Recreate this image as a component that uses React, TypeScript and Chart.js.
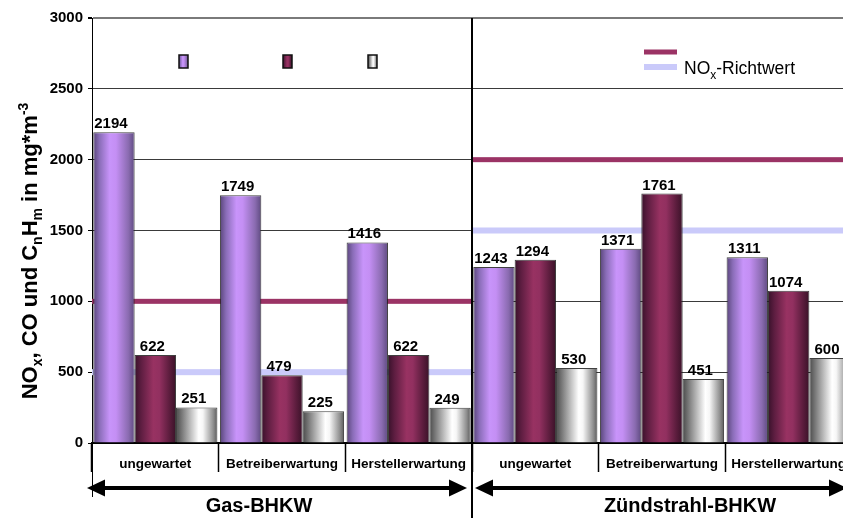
import React, { useEffect, useRef } from "react";
import { Chart, registerables } from "chart.js";

Chart.register(...registerables);

const FONT = "'Liberation Sans', Arial, Helvetica, sans-serif";
Chart.defaults.font.family = FONT;

// ---- data ----
const categories = [
  "ungewartet",
  "Betreiberwartung",
  "Herstellerwartung",
  "ungewartet",
  "Betreiberwartung",
  "Herstellerwartung",
];
const noxValues = [2194, 1749, 1416, 1243, 1371, 1311];
const coValues = [622, 479, 622, 1294, 1761, 1074];
const cnhmValues = [251, 225, 249, 530, 451, 600];

const groupNames = ["Gas-BHKW", "Zündstrahl-BHKW"];
const groupSizes = [3, 3];
const coLimits = [1000, 2000];
const noxLimits = [500, 1500];

const yMin = 0;
const yMax = 3000;
const yStep = 500;

const legendLabel = "NOx-Richtwert";

// ---- styling ----
type Stops = [number, string][];
const purpleStops: Stops = [
  [0, "#59457a"],
  [0.15, "#8a6db8"],
  [0.4, "#c894fa"],
  [0.55, "#c48ff4"],
  [0.85, "#8a6bb0"],
  [1, "#5e4a80"],
];
const maroonStops: Stops = [
  [0, "#38112a"],
  [0.15, "#5c1d40"],
  [0.45, "#983262"],
  [0.6, "#923060"],
  [0.85, "#5a1c3c"],
  [1, "#3a1228"],
];
const greyStops: Stops = [
  [0, "#4a4a4a"],
  [0.2, "#8c8c8c"],
  [0.55, "#ffffff"],
  [0.65, "#f6f6f6"],
  [0.9, "#8e8e8e"],
  [1, "#5a5a5a"],
];
const seriesStops = [purpleStops, maroonStops, greyStops];
const coLineColor = "#9b3365";
const noxLineColor = "#cacafa";

function gradient(ctx: CanvasRenderingContext2D, x0: number, x1: number, stops: Stops) {
  const g = ctx.createLinearGradient(x0, 0, x1, 0);
  stops.forEach(([p, c]) => g.addColorStop(p, c));
  return g;
}

type Part = [string, "n" | "sub" | "sup"];
function drawRich(
  ctx: CanvasRenderingContext2D,
  parts: Part[],
  x: number,
  y: number,
  big: string,
  small: string,
  subDy: number,
  supDy: number,
  align: "left" | "center"
) {
  const widths = parts.map(([t, k]) => {
    ctx.font = k === "n" ? big : small;
    return ctx.measureText(t).width;
  });
  const total = widths.reduce((a, b) => a + b, 0);
  let cx = align === "center" ? x - total / 2 : x;
  ctx.textAlign = "left";
  ctx.textBaseline = "alphabetic";
  parts.forEach(([t, k], i) => {
    ctx.font = k === "n" ? big : small;
    const dy = k === "sub" ? subDy : k === "sup" ? supDy : 0;
    ctx.fillText(t, cx, y + dy);
    cx += widths[i];
  });
}

function arrow(ctx: CanvasRenderingContext2D, x0: number, x1: number, yy: number) {
  const head = 18;
  const half = 8.5;
  ctx.save();
  ctx.strokeStyle = "#000";
  ctx.fillStyle = "#000";
  ctx.lineWidth = 4;
  ctx.beginPath();
  ctx.moveTo(x0 + head - 2, yy);
  ctx.lineTo(x1 - head + 2, yy);
  ctx.stroke();
  ctx.beginPath();
  ctx.moveTo(x0, yy);
  ctx.lineTo(x0 + head, yy - half);
  ctx.lineTo(x0 + head, yy + half);
  ctx.closePath();
  ctx.fill();
  ctx.beginPath();
  ctx.moveTo(x1, yy);
  ctx.lineTo(x1 - head, yy - half);
  ctx.lineTo(x1 - head, yy + half);
  ctx.closePath();
  ctx.fill();
  ctx.restore();
}

const decorPlugin = {
  id: "decor",
  beforeDatasetsDraw(chart: any) {
    const { ctx, scales } = chart;
    const x = scales.x;
    const y = scales.y;

    // shaded cylinder look for every bar
    chart.data.datasets.forEach((_: any, di: number) => {
      const meta = chart.getDatasetMeta(di);
      meta.data.forEach((el: any) => {
        const w = el.width;
        const g = gradient(ctx, el.x - w / 2, el.x + w / 2, seriesStops[di]);
        el.options = Object.assign({}, el.options, { backgroundColor: g });
      });
    });

    // limit lines per plant group, behind the bars
    ctx.save();
    let start = 0;
    groupSizes.forEach((n, gi) => {
      const l = x.getPixelForValue(start - 0.5);
      const r = x.getPixelForValue(start + n - 0.5);
      const yc = y.getPixelForValue(coLimits[gi]);
      const yn = y.getPixelForValue(noxLimits[gi]);
      ctx.fillStyle = coLineColor;
      ctx.fillRect(l, yc - 2.5, r - l, 5);
      ctx.fillStyle = noxLineColor;
      ctx.fillRect(l, yn - 3, r - l, 6);
      start += n;
    });
    ctx.restore();
  },
  afterDatasetsDraw(chart: any) {
    const { ctx } = chart;
    ctx.save();
    ctx.fillStyle = "#000";
    ctx.font = `bold 15px ${FONT}`;
    ctx.textAlign = "center";
    ctx.textBaseline = "alphabetic";
    chart.data.datasets.forEach((ds: any, di: number) => {
      const meta = chart.getDatasetMeta(di);
      meta.data.forEach((el: any, i: number) => {
        ctx.fillText(String(ds.data[i]), el.x - 3, el.y - 4);
      });
    });
    ctx.restore();
  },
  afterDraw(chart: any) {
    const { ctx, scales, chartArea } = chart;
    const x = scales.x;
    ctx.save();
    ctx.fillStyle = "#000";
    ctx.strokeStyle = "#000";

    // y axis runs on through the category rows
    ctx.lineWidth = 1;
    ctx.beginPath();
    ctx.moveTo(chartArea.left + 0.5, chartArea.bottom);
    ctx.lineTo(chartArea.left + 0.5, chartArea.bottom + 54);
    ctx.stroke();

    // group divider, arrows and group names
    let start = 0;
    const nameShift = [-23, 28];
    groupSizes.forEach((n, gi) => {
      const l = x.getPixelForValue(start - 0.5);
      const r = x.getPixelForValue(start + n - 0.5);
      if (gi > 0) {
        ctx.lineWidth = 2;
        ctx.beginPath();
        ctx.moveTo(l, chartArea.top);
        ctx.lineTo(l, chart.height);
        ctx.stroke();
      }
      arrow(ctx, gi === 0 ? l - 5 : l + 3, r - 5, chartArea.bottom + 45);
      ctx.font = `bold 20px ${FONT}`;
      ctx.textAlign = "center";
      ctx.textBaseline = "middle";
      ctx.fillText(groupNames[gi], (l + r) / 2 + nameShift[gi], chartArea.bottom + 63);
      start += n;
    });

    // y axis title
    ctx.save();
    ctx.translate(30, 251);
    ctx.rotate(-Math.PI / 2);
    drawRich(
      ctx,
      [
        ["NO", "n"],
        ["x", "sub"],
        [", CO und C", "n"],
        ["n", "sub"],
        ["H", "n"],
        ["m", "sub"],
        [" in mg*m", "n"],
        ["-3", "sup"],
      ],
      0,
      7,
      `bold 22px ${FONT}`,
      `bold 14px ${FONT}`,
      5,
      -9,
      "center"
    );
    ctx.restore();

    // legend: series swatches
    const boxes: [number, number][] = [
      [179, 0],
      [283, 1],
      [368, 2],
    ];
    boxes.forEach(([bx, si]) => {
      ctx.fillStyle = gradient(ctx, bx, bx + 9, seriesStops[si]);
      ctx.fillRect(bx, 55, 9, 13);
      ctx.strokeStyle = "#111";
      ctx.lineWidth = 1.5;
      ctx.strokeRect(bx, 55, 9, 13);
    });

    // legend: limit lines
    ctx.fillStyle = coLineColor;
    ctx.fillRect(644, 49.5, 33, 5);
    ctx.fillStyle = noxLineColor;
    ctx.fillRect(644, 64, 33, 6);
    ctx.fillStyle = "#000";
    drawRich(
      ctx,
      [
        [legendLabel.slice(0, 2), "n"],
        [legendLabel.slice(2, 3), "sub"],
        [legendLabel.slice(3), "n"],
      ],
      684,
      74,
      `17.5px ${FONT}`,
      `12px ${FONT}`,
      5,
      0,
      "left"
    );

    ctx.restore();
  },
};

export default function App() {
  const ref = useRef<HTMLCanvasElement>(null);

  useEffect(() => {
    const canvas = ref.current;
    if (!canvas) return;
    const chart = new Chart(canvas, {
      type: "bar",
      data: {
        labels: categories,
        datasets: [
          { label: "NOx", data: noxValues, backgroundColor: "#c48ff4" },
          { label: "CO", data: coValues, backgroundColor: "#923060" },
          { label: "CnHm", data: cnhmValues, backgroundColor: "#dddddd" },
        ].map((d) => ({
          ...d,
          borderColor: "rgba(30,30,30,0.85)",
          borderWidth: 1,
          categoryPercentage: 0.98,
          barPercentage: 1,
        })),
      },
      options: {
        animation: false,
        responsive: true,
        maintainAspectRatio: false,
        layout: { padding: { left: 0, right: 8, top: 18, bottom: 0 } },
        plugins: {
          legend: { display: false },
          tooltip: { enabled: false },
        },
        scales: {
          x: {
            ticks: {
              color: "#000",
              font: { weight: "bold", size: 13.5 },
              padding: -16,
              autoSkip: false,
              maxRotation: 0,
              minRotation: 0,
            },
            grid: {
              drawOnChartArea: false,
              drawTicks: true,
              tickLength: 29,
              tickColor: "#000",
              tickWidth: 1.5,
            },
            border: { color: "#000", width: 1.5 },
            afterFit: (s: any) => {
              s.height = 75;
            },
          },
          y: {
            min: yMin,
            max: yMax,
            ticks: {
              stepSize: yStep,
              color: "#000",
              font: { weight: "bold", size: 15 },
              padding: 5,
              callback: (v: any) => String(v),
            },
            grid: {
              color: (c: any) =>
                c.tick && c.tick.value === 0 ? "#000" : c.tick && c.tick.value === yMax ? "#7a7a7a" : "#3a3a3a",
              lineWidth: (c: any) => (c.tick && c.tick.value === yMax ? 2 : 1),
              tickLength: 4,
              tickColor: "#000",
            },
            border: { color: "#000", width: 1 },
            afterFit: (s: any) => {
              s.width = 92;
            },
          },
        },
      } as any,
      plugins: [decorPlugin as any],
    });
    return () => chart.destroy();
  }, []);

  return (
    <div
      style={{
        position: "fixed",
        left: 0,
        top: 0,
        width: 843,
        height: 518,
        overflow: "hidden",
        background: "#fff",
      }}
    >
      <div style={{ position: "relative", width: 860, height: 518 }}>
        <canvas ref={ref} />
      </div>
    </div>
  );
}
